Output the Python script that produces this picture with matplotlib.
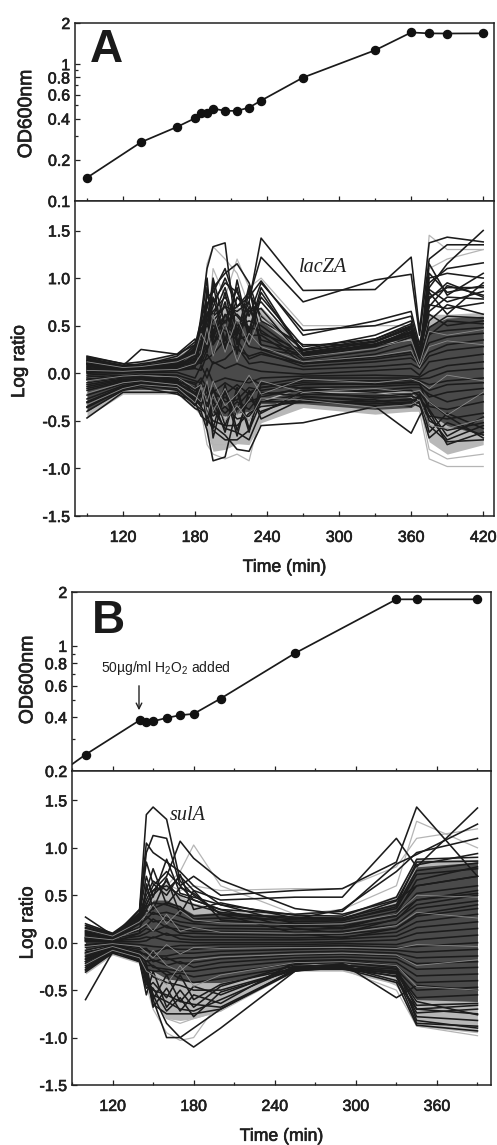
#!/usr/bin/env python3

import matplotlib
matplotlib.use("Agg")
import matplotlib.pyplot as plt
import matplotlib.patheffects as pe
from matplotlib.ticker import FixedLocator, FixedFormatter, NullFormatter

plt.rcParams['font.family'] = ['Liberation Sans', 'DejaVu Sans']
plt.rcParams['mathtext.fontset'] = 'custom'
plt.rcParams['mathtext.rm'] = 'Liberation Sans'

W = 497
H = 1145
INK = '#1f1f1f'

# growth curves
od_time_a = [90, 135, 165, 180, 185, 190, 195, 205, 215, 225, 235, 270, 330, 360, 375, 390, 420]
od_a = [0.148, 0.269, 0.348, 0.403, 0.443, 0.44, 0.474, 0.456, 0.456, 0.482, 0.542, 0.799, 1.265, 1.706, 1.68, 1.676, 1.68]
od_time_b = [100, 140, 145, 150, 160, 170, 180, 200, 255, 330, 345, 390]
od_b = [0.247, 0.384, 0.376, 0.379, 0.396, 0.41, 0.417, 0.508, 0.91, 1.82, 1.82, 1.82]
od_lead_time_b = [90, 100]
od_lead_b = [0.218, 0.247]

# panel A log ratios
time_a = [90, 120, 135, 165, 180, 185, 190, 195, 205, 215, 225, 235, 270, 330, 360, 367, 375, 390, 420]
outer_up_a = [.19, .11, .12, .20, .34, .45, .60, .70, .75, .70, .65, .70, .26, .36, .50, .22, .62, .62, .64]
outer_lo_a = [-.46, -.22, -.22, -.22, -.38, -.45, -.62, -.82, -.80, -.74, -.75, -.52, -.36, -.43, -.40, -.40, -.72, -.85, -.75]
inner_up_a = [.17, .09, .10, .17, .30, .35, .45, .55, .60, .55, .50, .55, .22, .32, .45, .15, .50, .58, .60]
inner_lo_a = [-.40, -.17, -.17, -.17, -.33, -.28, -.35, -.42, -.45, -.42, -.40, -.32, -.32, -.38, -.36, -.30, -.42, -.55, -.65]
dark_a = [
    [.10, .05, .05, .08, .10, .20, .35, .60, .70, .65, .75, 1.42, .87, .88, 1.22, .45, 1.37, 1.43, 1.38],
    [.08, .03, .04, .06, .08, .15, .30, .45, .60, .70, .80, 1.22, .75, .98, 1.04, .40, 1.20, 1.35, 1.35],
    [.05, .02, .02, .05, .20, .60, 1.10, 1.33, 1.37, .35, .15, .20, .10, .15, .20, .10, .90, 1.15, 1.50],
    [.12, .06, .05, .10, .25, .50, .70, .90, 1.05, 1.15, .95, .55, .30, .30, .40, .20, .95, 1.10, 1.16],
    [.15, .08, .25, .20, .30, .55, .80, .85, 1.10, .70, .80, .97, .40, .55, .65, .30, .80, .90, .90],
    [.14, .07, .10, .15, .25, .40, .60, .75, .95, .85, .60, .95, .45, .50, .60, .25, .70, .92, .82],
    [.10, .05, .06, .12, .30, .45, .55, .70, 1.00, .70, .85, .60, .25, .40, .55, .20, .65, .80, .78],
    [-.47, -.20, -.20, -.20, -.37, -.40, -.60, -.92, -.88, -.35, -.20, -.15, -.10, -.12, -.10, -.10, -.40, -.75, -.62],
    [-.40, -.18, -.15, -.22, -.30, -.45, -.50, -.55, -.65, -.80, -.82, -.55, -.52, -.35, -.63, -.45, -.30, -.45, -.68],
    [-.35, -.15, -.12, -.15, -.28, -.35, -.45, -.60, -.70, -.70, -.60, -.30, -.30, -.30, -.28, -.30, -.55, -.72, -.70],
    [.18, .10, .08, .18, .33, .30, .55, .65, .80, .60, .45, .90, .20, .30, .42, .10, .55, .72, .62],
    [.16, .08, .07, .14, .22, .25, .45, .55, .70, .50, .55, .50, .18, .28, .40, .18, .48, .60, .58],
    [.13, .07, .06, .10, .15, .30, .50, .40, .55, .62, .48, .45, .14, .24, .38, .12, .40, .55, .52],
    [.10, .05, .05, .08, .12, .15, .40, .50, .45, .35, .40, .40, .11, .20, .30, .10, .42, .45, .48],
    [.07, .04, .04, .06, .14, .10, .25, .40, .30, .45, .28, .25, .10, .17, .22, .14, .32, .38, .42],
    [.04, .03, .02, .04, .08, .12, .15, .20, .35, .25, .18, .22, .07, .12, .16, .09, .22, .30, .35],
    [.02, .01, .01, .03, .05, .03, .20, .10, .15, .28, .10, .12, .04, .07, .10, .05, .18, .24, .28],
    [-.02, 0, .01, .01, -.05, .08, -.05, .12, .05, .10, .05, .02, -.01, .03, .05, -.02, .12, .15, .20],
    [-.06, -.03, -.01, -.02, -.08, -.10, .05, -.10, -.05, -.08, -.10, -.05, -.03, -.02, -.03, -.04, .02, .08, .12],
    [-.10, -.05, -.04, -.05, -.12, -.05, -.15, -.20, -.10, -.18, -.05, -.12, -.05, -.05, -.05, -.06, -.05, .02, .05],
    [-.14, -.07, -.05, -.07, -.18, -.15, -.12, -.25, -.22, -.12, -.22, -.15, -.08, -.08, -.07, -.08, -.12, -.08, -.05],
    [-.18, -.09, -.07, -.09, -.15, -.20, -.28, -.18, -.30, -.28, -.15, -.18, -.12, -.11, -.09, -.10, -.18, -.12, -.10],
    [-.23, -.11, -.09, -.11, -.22, -.25, -.22, -.35, -.25, -.38, -.30, -.25, -.15, -.14, -.12, -.12, -.25, -.20, -.16],
    [-.27, -.13, -.10, -.13, -.27, -.18, -.35, -.30, -.42, -.30, -.38, -.22, -.18, -.18, -.15, -.15, -.22, -.30, -.22],
    [-.31, -.15, -.11, -.14, -.30, -.30, -.30, -.45, -.35, -.48, -.45, -.30, -.22, -.24, -.22, -.20, -.35, -.38, -.30],
    [-.36, -.17, -.13, -.16, -.34, -.22, -.40, -.50, -.55, -.55, -.42, -.35, -.30, -.32, -.30, -.25, -.45, -.48, -.42],
    [.17, .10, .12, .20, .36, .10, .65, .30, .50, .40, .65, .75, .24, .36, .50, .22, .62, .50, .55],
    [-.30, -.14, -.12, -.18, -.33, -.38, -.42, -.38, -.58, -.62, -.70, -.40, -.25, -.28, -.35, -.22, -.50, -.60, -.52],
    # fan of lines in the stress spike and after the 360 min sample
    [.06, .03, .03, .06, .28, .15, .90, .40, .85, .30, .70, .35, .22, .33, .48, .16, 1.05, .85, .92],
    [.03, .02, .02, .05, .10, .55, .45, 1.00, .50, .90, .35, .80, .28, .36, .52, .24, .88, .75, .86],
    [.09, .04, .04, .08, .18, .35, .85, .60, .90, .45, .75, .30, .20, .31, .44, .13, .78, .95, .80],
    [0, .01, .01, .04, .06, .48, .38, .80, .35, .80, .65, .68, .16, .29, .46, .19, .72, .68, .74],
    [.01, .02, .03, .07, .16, .20, .75, .35, .75, .20, .88, .42, .24, .34, .49, .17, 1.15, .82, 1.05],
    [-.04, -.02, -.02, -.03, -.22, -.10, -.48, -.15, -.55, -.20, -.62, -.10, -.16, -.20, -.18, -.24, -.62, -.42, -.58],
    [-.07, -.04, -.04, -.06, -.10, -.32, -.15, -.58, -.12, -.60, -.25, -.42, -.19, -.26, -.24, -.27, -.38, -.66, -.46],
    [-.12, -.06, -.06, -.08, -.26, -.08, -.55, -.28, -.62, -.15, -.58, -.20, -.24, -.30, -.27, -.32, -.68, -.52, -.65],
    [-.16, -.08, -.08, -.10, -.20, -.36, -.10, -.68, -.18, -.66, -.18, -.48, -.27, -.34, -.31, -.35, -.46, -.70, -.55],
    [.11, .05, .05, .09, .24, .42, .22, .95, .25, .98, .42, .85, .21, .33, .47, .11, 1.00, 1.05, 1.00],
    [.13, .06, .07, .11, .26, .52, 1.00, .30, .62, .40, .92, .25, .19, .30, .43, .20, .85, .62, .95],
]
pale_a = [
    [.02, .01, .02, .04, .10, .50, 1.15, 1.33, 1.20, 1.05, .70, .60, .25, .30, .35, .20, 1.45, 1.30, 1.30],
    [-.05, -.02, -.02, -.05, -.20, -.40, -.75, -.85, -.90, -.85, -.92, -.40, -.20, -.20, -.25, -.40, -.90, -.98, -.98],
    [.06, .03, .03, .05, .10, .20, .40, 1.10, .80, 1.20, .90, 1.00, .50, .50, .50, .30, 1.10, 1.20, 1.30],
    [-.10, -.05, -.05, -.08, -.25, -.35, -.55, -.75, -.75, -.60, -.65, -.30, -.15, -.20, -.20, -.30, -.80, -.90, -.85],
]
speck_a = [
    [.12, .06, .07, .12, .20, .42, .30, .62, .22, .58, .30, .62, .17, .26, .36, .10, .44, .40, .46],
    [.03, .02, .03, .04, .10, .20, .48, .18, .52, .12, .42, .28, .12, .18, .24, .06, .28, .34, .30],
    [-.08, -.03, -.02, -.04, -.16, -.12, -.30, -.08, -.34, -.22, -.02, -.22, -.06, -.10, -.06, -.09, -.16, -.02, -.08],
    [-.21, -.10, -.08, -.12, -.24, -.30, -.08, -.40, -.16, -.44, -.28, -.08, -.20, -.16, -.20, -.18, -.30, -.44, -.20],
    [-.33, -.16, -.12, -.15, -.31, -.14, -.44, -.22, -.50, -.34, -.50, -.26, -.28, -.36, -.33, -.28, -.55, -.58, -.48],
]

# panel B log ratios
time_b = [100, 120, 140, 145, 150, 160, 170, 180, 200, 255, 290, 330, 345, 390]
outer_up_b = [.21, .11, .35, .48, .55, .60, .50, .42, .36, .30, .30, .50, .88, .88]
outer_lo_b = [-.33, -.13, -.22, -.45, -.62, -.80, -.82, -.80, -.72, -.30, -.30, -.44, -.88, -.95]
inner_up_b = [.20, .10, .33, .40, .45, .45, .38, .30, .32, .28, .27, .42, .80, .85]
inner_lo_b = [-.30, -.10, -.20, -.28, -.30, -.38, -.40, -.42, -.42, -.28, -.27, -.32, -.60, -.62]
dark_b = [
    [.05, .05, .35, 1.35, 1.43, 1.30, .65, .50, .30, .10, .05, .15, .30, .40],
    [.10, .05, .30, .95, 1.13, 1.10, .60, .45, .35, .15, .10, .25, .40, .50],
    [.08, .06, .35, 1.05, .95, .85, .75, .60, .40, .20, .15, .30, .45, .55],
    [.27, .08, .30, .40, .55, .70, 1.07, .89, .66, .36, .30, .45, .60, .70],
    [.02, .03, .25, .45, .60, .75, .60, .70, .50, .55, .57, .85, 1.43, .70],
    [.05, .04, .28, .50, .65, .55, .70, .55, .45, .48, .48, 1.10, .80, 1.42],
    [.04, .03, .20, .40, .55, .60, .50, .45, .35, .30, .33, .83, .93, 1.25],
    [.03, .02, .22, .35, .50, .65, .45, .40, .32, .25, .35, .75, .95, 1.10],
    [-.60, -.10, -.10, -.40, -.60, -1.0, -1.0, -1.10, -.90, -.30, -.22, -.58, -.45, -.50],
    [-.10, -.05, -.12, -.30, -.55, -.85, -1.0, -.90, -.70, -.30, -.25, -.40, -.70, -.75],
    [-.15, -.06, -.18, -.35, -.65, -.75, -.75, -.75, -.70, -.28, -.28, -.35, -.85, -.88],
    [-.20, -.08, -.15, -.38, -.55, -.62, -.70, -.72, -.60, -.26, -.26, -.33, -.78, -.82],
    [.20, .10, .30, .38, .42, .40, .35, .28, .30, .27, .26, .40, .85, .86],
    [.18, .09, .26, .30, .36, .42, .38, .25, .26, .24, .24, .36, .72, .78],
    [.16, .08, .24, .34, .30, .32, .28, .22, .22, .20, .21, .33, .60, .70],
    [.13, .07, .20, .25, .32, .26, .22, .20, .18, .17, .18, .28, .52, .60],
    [.11, .06, .16, .28, .22, .24, .18, .15, .15, .14, .15, .24, .45, .52],
    [.09, .05, .13, .18, .25, .16, .14, .12, .12, .11, .12, .19, .36, .44],
    [.07, .04, .10, .15, .12, .18, .10, .10, .09, .08, .09, .15, .28, .36],
    [.05, .03, .07, .10, .14, .08, .08, .06, .06, .05, .06, .11, .22, .30],
    [.03, .02, .04, .06, .05, .10, .04, .03, .03, .03, .04, .07, .16, .22],
    [.01, .01, .01, .02, .06, .02, .01, 0, 0, 0, .01, .03, .10, .15],
    [-.02, 0, -.02, -.03, -.04, -.05, -.03, -.03, -.02, -.02, -.01, -.02, .03, .08],
    [-.05, -.01, -.05, -.08, -.10, -.06, -.07, -.07, -.05, -.04, -.03, -.05, -.04, 0],
    [-.08, -.02, -.07, -.06, -.14, -.14, -.11, -.11, -.09, -.07, -.06, -.08, -.10, -.07],
    [-.11, -.03, -.09, -.14, -.12, -.18, -.16, -.16, -.13, -.10, -.09, -.11, -.16, -.14],
    [-.14, -.04, -.11, -.12, -.20, -.16, -.22, -.21, -.17, -.13, -.12, -.14, -.22, -.20],
    [-.17, -.05, -.13, -.20, -.18, -.24, -.20, -.26, -.21, -.16, -.15, -.17, -.28, -.26],
    [-.20, -.06, -.15, -.18, -.26, -.28, -.30, -.30, -.26, -.19, -.18, -.21, -.35, -.33],
    [-.24, -.08, -.17, -.24, -.24, -.34, -.32, -.36, -.32, -.22, -.21, -.25, -.42, -.40],
    [-.28, -.09, -.19, -.28, -.30, -.30, -.38, -.42, -.38, -.25, -.24, -.28, -.50, -.47],
    [-.31, -.11, -.20, -.26, -.36, -.42, -.45, -.50, -.50, -.28, -.26, -.30, -.58, -.55],
    [.02, .01, -.15, -.40, -.50, -.55, -.62, -.65, -.68, -.29, -.27, -.32, -.66, -.64],
    # extra lines in the spike and the wide tail at the end
    [.06, .03, .30, .70, .48, .88, .52, .48, .40, .29, .28, .48, .88, .90],
    [.12, .05, .32, .85, .62, .50, .72, .35, .42, .26, .25, .44, .82, .94],
    [.15, .07, .28, .55, .78, .40, .58, .52, .30, .22, .23, .38, .76, .84],
    [-.03, 0, .10, .62, .35, .68, .30, .55, .24, .18, .16, .30, .66, .80],
    [-.12, -.04, -.20, -.48, -.42, -.58, -.34, -.60, -.44, -.27, -.25, -.36, -.74, -.70],
    [-.18, -.07, -.10, -.22, -.60, -.34, -.62, -.46, -.55, -.25, -.23, -.31, -.62, -.76],
    [-.22, -.08, -.20, -.55, -.30, -.68, -.50, -.68, -.46, -.23, -.20, -.27, -.70, -.66],
    [-.26, -.09, -.16, -.32, -.68, -.48, -.72, -.55, -.64, -.20, -.19, -.24, -.82, -.90],
    [-.29, -.11, -.12, -.44, -.48, -.72, -.58, -.78, -.52, -.29, -.27, -.42, -.87, -.93],
]
pale_b = [
    [.03, .02, .15, .30, .45, .60, .75, 1.03, .60, .30, .35, .60, 1.28, 1.00],
    [.12, .06, .20, .35, .50, .62, .55, .60, .55, .57, .57, .80, 1.10, 1.20],
    [-.08, -.04, -.15, -.45, -.70, -.95, -1.03, -1.0, -.60, -.25, -.20, -.45, -.72, -.85],
    [-.20, -.10, -.20, -.40, -.55, -.80, -.85, -.80, -.72, -.22, -.28, -.50, -.88, -.98],
]
speck_b = [
    [.14, .07, .22, .30, .40, .20, .34, .24, .21, .19, .20, .30, .50, .48],
    [.06, .03, .15, .20, .12, .30, .12, .16, .11, .10, .10, .18, .32, .26],
    [-.04, -.01, -.04, -.10, -.16, -.02, -.12, -.05, -.06, -.05, -.05, -.06, -.02, -.04],
    [-.12, -.04, -.12, -.18, -.08, -.24, -.30, -.18, -.15, -.12, -.11, -.13, -.24, -.18],
    [-.23, -.08, -.16, -.30, -.34, -.44, -.24, -.46, -.34, -.21, -.20, -.24, -.46, -.50],
]

# ticks and labels
od_ticks_a = [0.1, 0.2, 0.4, 0.6, 0.8, 1, 2]
od_ticks_b = [0.2, 0.4, 0.6, 0.8, 1, 2]
od_minor = [0.3, 0.5, 0.7, 0.9]
ratio_ticks = [-1.5, -1.0, -0.5, 0.0, 0.5, 1.0, 1.5]
time_ticks_a = [120, 180, 240, 300, 360, 420]
time_minor_a = [90, 150, 210, 270, 330, 390]
time_ticks_b = [120, 180, 240, 300, 360]
time_minor_b = [90, 150, 210, 270, 330, 390]

heavy = [pe.withStroke(linewidth=0.45, foreground=INK)]


def make_axes(left, top, right, bottom):
    ax = fig.add_axes([left / W, 1 - bottom / H, (right - left) / W, (bottom - top) / H])
    for s in ax.spines.values():
        s.set_linewidth(1.1)
        s.set_color('#222222')
    return ax


def style_ticks(ax, major, minor):
    ax.set_xticks(major)
    ax.set_xticks(minor, minor=True)
    ax.tick_params(axis='both', which='both', direction='in', width=0.9, color='#222222')
    ax.tick_params(axis='both', which='major', length=3.5, labelsize=11.5, labelcolor=INK)
    ax.tick_params(axis='both', which='minor', length=2.5)
    ax.tick_params(axis='x', which='major', pad=10)
    for t in ax.get_xticklabels() + ax.get_yticklabels():
        t.set_path_effects(heavy)


def draw_growth(ax, times, od, ticks, xlim, ylim, label_x, label_y):
    ax.set_yscale('log')
    ax.plot(times, od, '-', color='#1a1a1a', lw=1.25, marker='o', ms=5.8, mfc='#111111', mec='#111111')
    ax.set_xlim(*xlim)
    ax.set_ylim(*ylim)
    ax.yaxis.set_major_locator(FixedLocator(ticks))
    ax.yaxis.set_major_formatter(FixedFormatter([str(t) for t in ticks]))
    ax.yaxis.set_minor_locator(FixedLocator(od_minor))
    ax.yaxis.set_minor_formatter(NullFormatter())
    ax.set_ylabel('OD600nm', fontsize=14, color=INK, path_effects=heavy)
    ax.yaxis.set_label_coords(label_x, label_y)


def draw_ratio(ax, times, outer_up, outer_lo, inner_up, inner_lo, pale, dark, speck, xlim, label_x, label_y):
    ax.fill_between(times, outer_lo, outer_up, color='#b8b8b8', lw=0)
    ax.fill_between(times, inner_lo, inner_up, color='#4a4a4a', lw=0)
    for tr in pale:
        ax.plot(times, tr, color='#b5b5b5', lw=0.9)
    for tr in dark:
        ax.plot(times, tr, color='#1c1c1c', lw=1.15)
    for tr in speck:
        ax.plot(times, tr, color='#8c8c8c', lw=0.6)
    ax.set_xlim(*xlim)
    ax.set_ylim(-1.5, 1.81)
    ax.set_yticks(ratio_ticks)
    ax.set_yticklabels(['%.1f' % v for v in ratio_ticks])
    ax.set_xlabel('Time (min)', fontsize=12.7, color=INK, labelpad=10, path_effects=heavy)
    ax.set_ylabel('Log ratio', fontsize=13.5, color=INK, path_effects=heavy)
    ax.yaxis.set_label_coords(label_x, label_y)


fig = plt.figure(figsize=(W / 100, H / 100), dpi=100)

ax1 = make_axes(75, 23, 494, 201)
draw_growth(ax1, od_time_a, od_a, od_ticks_a, (80, 429), (0.1, 2), -0.095, 0.49)
style_ticks(ax1, time_ticks_a, time_minor_a)
ax1.tick_params(axis='x', labelbottom=False)
ax1.text(90 / W, 1 - 62 / H, 'A', transform=fig.transFigure, fontsize=33, fontweight='bold', color='#1a1a1a')

ax2 = make_axes(75, 201, 494, 516)
draw_ratio(ax2, time_a, outer_up_a, outer_lo_a, inner_up_a, inner_lo_a, pale_a, dark_a, speck_a, (80, 429), -0.112, 0.49)
style_ticks(ax2, time_ticks_a, time_minor_a)
ax2.text(323 / W, 1 - 268 / H, 'lacZA', transform=fig.transFigure, family='Liberation Serif',
         style='italic', fontsize=14.5, ha='center', va='center', color=INK)

ax3 = make_axes(72, 592, 491, 771)
ax3.plot(od_lead_time_b, od_lead_b, '-', color='#1a1a1a', lw=1.25)
draw_growth(ax3, od_time_b, od_b, od_ticks_b, (90, 400), (0.2, 2), -0.085, 0.51)
style_ticks(ax3, time_ticks_b, time_minor_b)
ax3.tick_params(axis='x', labelbottom=False)
ax3.text(92 / W, 1 - 633 / H, 'B', transform=fig.transFigure, fontsize=33, fontweight='bold', color='#1a1a1a')
ax3.text(101 / W, 1 - 668 / H, '50µg/ml H$_2$O$_2$ added', transform=fig.transFigure, fontsize=10,
         va='center', color=INK)
ax3.annotate('', xy=(139 / W, 1 - 713 / H), xytext=(139 / W, 1 - 683 / H), xycoords='figure fraction',
             textcoords='figure fraction', arrowprops=dict(arrowstyle='->', lw=1.0, color='#222222'))

ax4 = make_axes(72, 771, 491, 1085)
draw_ratio(ax4, time_b, outer_up_b, outer_lo_b, inner_up_b, inner_lo_b, pale_b, dark_b, speck_b, (90, 400), -0.085, 0.516)
style_ticks(ax4, time_ticks_b, time_minor_b)
ax4.text(188 / W, 1 - 815 / H, 'sulA', transform=fig.transFigure, family='Liberation Serif',
         style='italic', fontsize=14.5, ha='center', va='center', color=INK)

fig.savefig('out.png', dpi=100)
